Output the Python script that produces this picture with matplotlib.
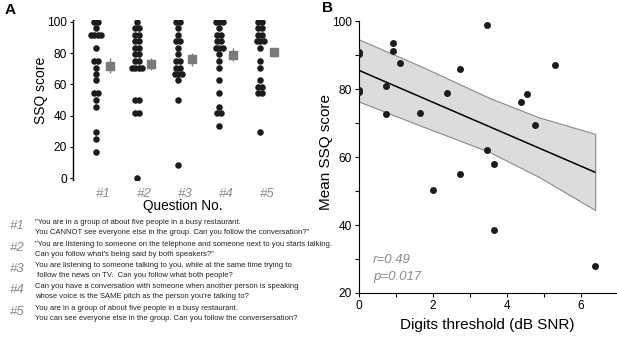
import numpy as np
import matplotlib
matplotlib.use("Agg")
import matplotlib.pyplot as plt
from matplotlib.ticker import MultipleLocator

plt.rcParams["font.family"] = ["Liberation Sans", "DejaVu Sans"]

# --- Panel A data: SSQ score per participant for each question
q_labels = ["#1", "#2", "#3", "#4", "#5"]
q1 = [100, 100, 95.8, 91.7, 91.7, 91.7, 91.7, 83.3, 75, 75, 70.8, 66.7, 62.5,
      54.2, 54.2, 50, 45.8, 29.2, 25, 16.7]
q2 = [100, 95.8, 95.8, 91.7, 91.7, 87.5, 87.5, 83.3, 83.3, 79.2, 79.2, 75, 75,
      70.8, 70.8, 70.8, 70.8, 50, 50, 41.7, 41.7, 0]
q3 = [100, 100, 95.8, 91.7, 87.5, 87.5, 83.3, 79.2, 75, 75, 70.8, 70.8, 66.7,
      66.7, 66.7, 62.5, 50, 8.3]
q4 = [100, 100, 100, 95.8, 91.7, 91.7, 87.5, 87.5, 83.3, 83.3, 83.3, 79.2, 75,
      70.8, 62.5, 54.2, 45.8, 41.7, 41.7, 33.3]
q5 = [100, 100, 95.8, 95.8, 91.7, 91.7, 87.5, 87.5, 87.5, 83.3, 75, 70.8, 62.5,
      58.3, 58.3, 54.2, 54.2, 29.2]
q_means = [72, 73, 76, 79, 80.5]
q_sem = [4.8, 3.8, 4.0, 4.0, 3.1]

q_text = [
    ('"You are in a group of about five people in a busy restaurant.',
     'You CANNOT see everyone else in the group. Can you follow the conversation?"'),
    ('"You are listening to someone on the telephone and someone next to you starts talking.',
     'Can you follow what\'s being said by both speakers?"'),
    ('You are listening to someone talking to you, while at the same time trying to',
     ' follow the news on TV.  Can you follow what both people?'),
    ('Can you have a conversation with someone when another person is speaking',
     'whose voice is the SAME pitch as the person you\'re talking to?'),
    ('You are in a group of about five people in a busy restaurant.',
     'You can see everyone else in the group. Can you follow the conversersation?'),
]

# --- Panel B data: digits threshold vs mean SSQ score
digits = [0, 0, 0, 0, 0.92, 0.92, 1.10, 0.74, 0.74, 1.64, 2.0, 2.38, 2.74, 2.74,
          3.47, 3.47, 3.65, 3.65, 4.38, 4.53, 4.76, 5.30, 6.37]
mean_ssq = [91.0, 90.2, 79.8, 79.2, 93.4, 91.3, 87.6, 81.0, 72.7, 72.8, 50.3, 78.7,
            85.9, 55.1, 98.7, 62.1, 57.9, 38.6, 76.1, 78.5, 69.5, 87.0, 28.0]
# confidence band edges
band_x = [0, 1.69, 3.50, 4.85, 6.38]
band_hi = [94.6, 86.6, 77.5, 71.7, 66.8]
band_lo = [76.3, 69.1, 61.6, 54.2, 44.4]

dot_color = "#1c1c1c"
grey = "#7a7a7a"

fig = plt.figure(figsize=(6.17, 3.39), dpi=100)

# ---------------- Panel A
axA = fig.add_axes([0.1183, 0.470, 0.352, 0.470])
for i, vals in enumerate([q1, q2, q3, q4, q5]):
    xc = i + 1 - 0.17
    vals = np.array(vals)
    for v in np.unique(vals):
        n = (vals == v).sum()
        offs = (np.arange(n) - (n - 1) / 2) * 0.085
        axA.plot(xc + offs, [v] * n, "o", color=dot_color, ms=4.7, mec="none")
axA.errorbar(np.arange(1, 6) + 0.17, q_means, yerr=q_sem, fmt="s", color=grey,
             ms=6.2, ecolor=grey, elinewidth=1, capsize=0)
axA.set_xlim(0.27, 5.56)
axA.set_ylim(-1, 101)
axA.set_xticks(np.arange(1, 6))
axA.set_xticklabels(q_labels, color="#8c8c8c", style="italic", fontsize=9.5)
axA.yaxis.set_major_locator(MultipleLocator(20))
axA.tick_params(axis="x", length=0, pad=6)
axA.tick_params(axis="y", length=2.5, width=0.8, pad=2, labelsize=8.6)
for s in ["top", "right", "bottom"]:
    axA.spines[s].set_visible(False)
axA.spines["left"].set_linewidth(1.0)
fig.text(0.066, 0.732, "SSQ score", rotation=90, ha="center", va="center", fontsize=10)
fig.text(0.297, 0.392, "Question No.", ha="center", va="center", fontsize=9.8)
fig.text(0.008, 0.990, "A", ha="left", va="top", fontsize=11, fontweight="bold")

# question descriptions
for i, (l1, l2) in enumerate(q_text):
    y = 1 - (223 + i * 21.3) / 339
    fig.text(0.015, y - 0.010, q_labels[i], ha="left", va="center", fontsize=9.5,
             color="#8c8c8c", style="italic")
    fig.text(0.057, y, l1, ha="left", va="center", fontsize=5.5, color="#222222")
    fig.text(0.057, y - 0.029, l2, ha="left", va="center", fontsize=5.5, color="#222222")

# ---------------- Panel B
axB = fig.add_axes([0.5818, 0.1357, 0.42, 0.8023])
x = np.array(digits)
y = np.array(mean_ssq)
slope, icpt = np.polyfit(x, y, 1)
xs = np.array([0, x.max()])
axB.fill_between(band_x, band_lo, band_hi, facecolor="#dcdcdc", edgecolor="#8a8a8a",
                 linewidth=0.8, zorder=1)
axB.plot(xs, icpt + slope * xs, color="black", lw=1.1, zorder=2)
axB.plot(x, y, "o", color=dot_color, ms=5, mec="none", zorder=3)
axB.set_xlim(0, 7)
axB.set_ylim(20, 100)
axB.xaxis.set_major_locator(MultipleLocator(2))
axB.xaxis.set_minor_locator(MultipleLocator(1))
axB.yaxis.set_major_locator(MultipleLocator(20))
axB.yaxis.set_minor_locator(MultipleLocator(10))
axB.tick_params(which="both", length=3, width=0.8, pad=2, labelsize=8.6)
for s in ["top", "right"]:
    axB.spines[s].set_visible(False)
axB.text(0.38, 29.7, "r=0.49", color="#8c8c8c", style="italic", fontsize=9.5,
         ha="left", va="center")
axB.text(0.38, 24.7, "p=0.017", color="#8c8c8c", style="italic", fontsize=9.5,
         ha="left", va="center")
fig.text(0.528, 0.551, "Mean SSQ score", rotation=90, ha="center", va="center", fontsize=11)
fig.text(0.790, 0.041, "Digits threshold (dB SNR)", ha="center", va="center", fontsize=11)
fig.text(0.522, 0.997, "B", ha="left", va="top", fontsize=11, fontweight="bold")

fig.savefig("out.png", dpi=100, facecolor="white")
